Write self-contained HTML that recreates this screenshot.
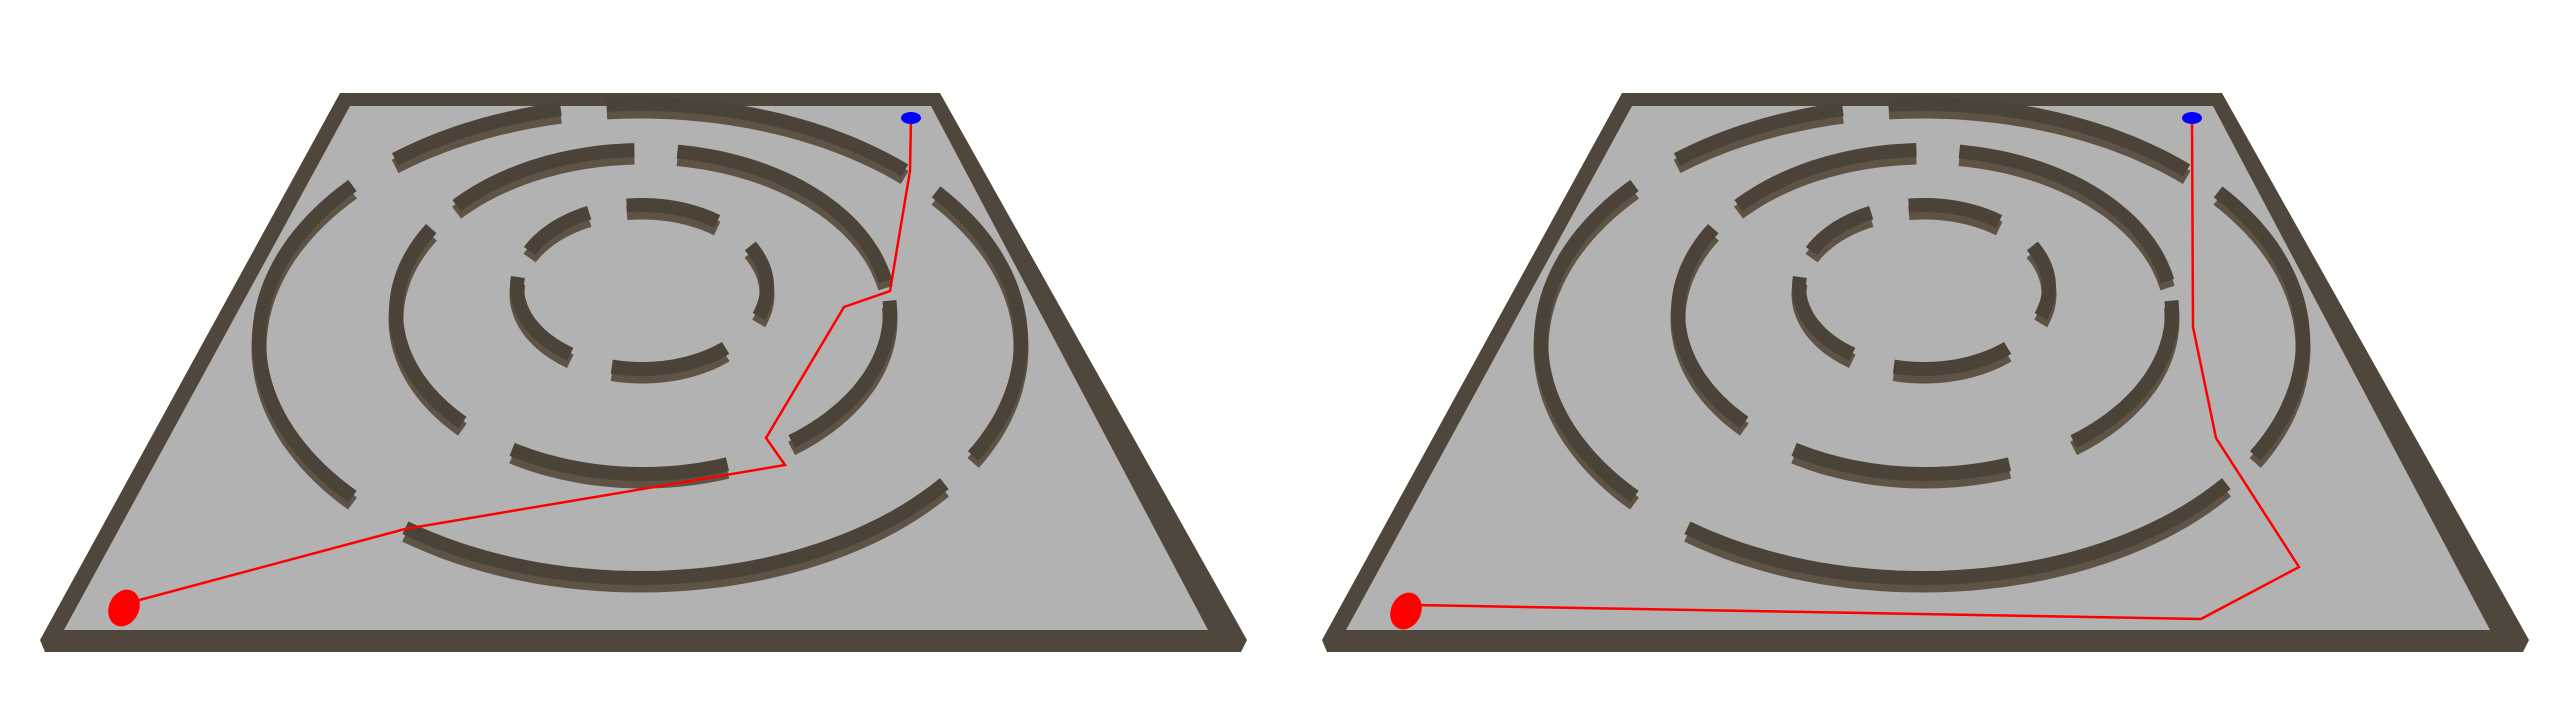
<!DOCTYPE html>
<html><head><meta charset="utf-8"><style>
html,body{margin:0;padding:0;background:#fff;width:2560px;height:720px;overflow:hidden}
svg{display:block}
</style></head><body>
<svg id="scene" width="2560" height="720" viewBox="0 0 2560 720" xmlns="http://www.w3.org/2000/svg">
</svg>
<script>
// Path waypoints (data) for each panel, in panel-local coordinates
const leftPathX = [911, 910, 890, 844, 766, 785, 405, 132];
const leftPathY = [118, 171, 291, 307, 438, 465, 529, 602];
const rightPathX = [910, 911, 934, 1017, 919, 132];
const rightPathY = [118, 327, 438, 567, 619, 605];
// Maze rings: center, radii, and wall arcs (start/end angles in degrees)
const ringCx = [642, 643, 640];
const ringCy = [287, 312, 341];
const ringRx = [125, 247, 381];
const ringRy = [82, 162, 237];
const ringArcs = [
  [[-97,-53],[-154,-115],[125,187],[48,104],[-30,21]],
  [[-139,-92],[-82,-11],[-4,53],[70,122],[137,211]],
  [[-130,-102],[-95,-46],[-39,29],[37,128],[139,221]]
];
const NS='http://www.w3.org/2000/svg';
const svg=document.getElementById('scene');
function mk(tag,attrs,parent){const e=document.createElementNS(NS,tag);for(const k in attrs)e.setAttribute(k,attrs[k]);(parent||svg).appendChild(e);return e;}
function arcPath(cx,cy,rx,ry,a0,a1){let d='';const n=40;for(let i=0;i<=n;i++){const t=(a0+(a1-a0)*i/n)*Math.PI/180;d+=(i?'L':'M')+(cx+rx*Math.cos(t)).toFixed(1)+','+(cy+ry*Math.sin(t)).toFixed(1);}return d;}
function panel(offset,px,py,name){
  const g=mk('g',{transform:'translate('+offset+',0)'});
  
  
  const outer=mk('polygon',{points:'340,93 940,93 1247,640 1241,652 45,652 40,640',fill:'#4f473c'},g);
  
  
  const inner=mk('polygon',{points:'350,106 931,106 1208,630 64,630',fill:'#b2b2b2'},g);
  
  
  for(let r=0;r<ringCx.length;r++){
    for(const a of ringArcs[r]){
      const d=arcPath(ringCx[r],ringCy[r],ringRx[r],ringRy[r],a[0],a[1]);
      const side=mk('path',{d:d,fill:'none',stroke:'#5e5344','stroke-width':15,transform:'translate(0,7)'},g);
      
      
      const top=mk('path',{d:d,fill:'none',stroke:'#4b4338','stroke-width':14},g);
      
      
    }
  }
  let pts=px.map((x,i)=>x+','+py[i]).join(' ');
  const line=mk('polyline',{points:pts,fill:'none',stroke:'#ff0000','stroke-width':2.5},g);
  
  
  const sx=px[px.length-1]-8, sy=py[py.length-1]+6;
  const s=mk('ellipse',{cx:sx,cy:sy,rx:15,ry:19,fill:'#ff0000',transform:'rotate(25 '+sx+' '+sy+')'},g);
  
  
  const gl=mk('ellipse',{cx:px[0],cy:py[0],rx:10,ry:6,fill:'#0000ff'},g);
  
  
}
panel(0,leftPathX,leftPathY,'left-panel');
panel(1282,rightPathX,rightPathY,'right-panel');
</script>
</body></html>
